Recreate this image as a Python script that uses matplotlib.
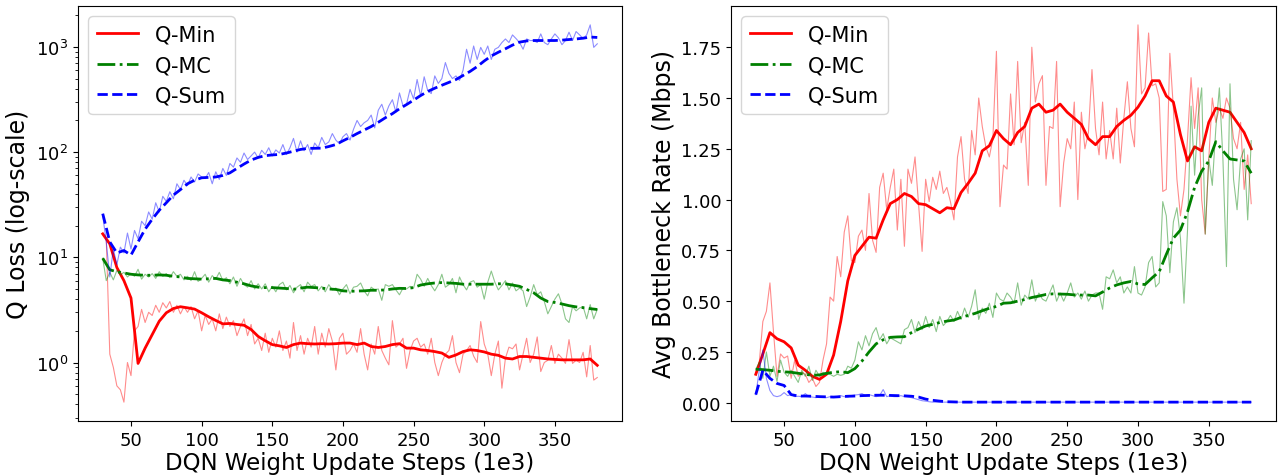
import numpy as np
import matplotlib
matplotlib.use("Agg")
import matplotlib.pyplot as plt
from matplotlib.ticker import MultipleLocator, FormatStrFormatter

# x grids (DQN weight update steps, 1e3)
steps_smooth = np.arange(30, 381, 5)       # 71 points
steps_raw = np.arange(30, 380.01, 2.5)     # 141 points

# ---------------- Left panel: Q loss (log-scale) ----------------
loss_min_smooth = [
    16.7, 13.4, 8.0, 6.0, 4.1, 0.98, 1.37, 1.84, 2.47, 2.97,
    3.26, 3.39, 3.31, 3.22, 2.97, 2.72, 2.51, 2.33, 2.35, 2.30,
    2.26, 2.06, 1.77, 1.61, 1.48, 1.44, 1.39, 1.48, 1.53, 1.51,
    1.50, 1.51, 1.50, 1.51, 1.53, 1.53, 1.48, 1.53, 1.42, 1.39,
    1.42, 1.48, 1.51, 1.37, 1.37, 1.32, 1.30, 1.27, 1.23, 1.12,
    1.18, 1.27, 1.32, 1.30, 1.26, 1.20, 1.17, 1.10, 1.08, 1.14,
    1.14, 1.12, 1.10, 1.08, 1.07, 1.06, 1.06, 1.06, 1.06, 1.08,
    0.94]
loss_mc_smooth = [
    9.8, 7.6, 7.3, 7.1, 6.9, 6.8, 6.75, 6.75, 6.8, 6.75,
    6.6, 6.5, 6.3, 6.25, 6.2, 6.25, 6.3, 6.1, 6.0, 5.8,
    5.6, 5.35, 5.2, 5.15, 5.15, 5.1, 5.05, 4.97, 5.1, 5.2,
    5.15, 5.1, 5.0, 4.95, 4.8, 4.75, 4.78, 4.8, 4.86, 4.86,
    4.9, 5.0, 5.07, 5.05, 5.15, 5.45, 5.6, 5.7, 5.75, 5.7,
    5.65, 5.55, 5.55, 5.55, 5.55, 5.55, 5.6, 5.6, 5.45, 5.3,
    4.95, 4.6, 4.1, 3.8, 3.72, 3.6, 3.47, 3.38, 3.32, 3.25,
    3.19]
loss_sum_smooth = [
    26, 14, 11.0, 11.6, 10.5, 14, 18.5, 23, 28, 33,
    39, 44, 50, 54, 57, 57.5, 58, 60, 63.5, 70,
    77, 84, 89, 92.5, 94, 95, 98, 102, 106, 108.5,
    108.7, 109, 113, 118, 128, 138, 150, 162, 175, 192,
    212, 232, 258, 283, 312, 345, 377, 405, 432, 460,
    490, 535, 585, 650, 735, 820, 890, 960, 1040, 1110,
    1140, 1150, 1150, 1150, 1150, 1160, 1175, 1190, 1210, 1240,
    1230]

loss_min_raw = [
    16.5, 15, 1.2, 0.9, 0.6, 0.55, 0.42, 1.0, 0.75, 2.0,
    2.2, 3.2, 2.4, 3.0, 2.8, 3.5, 3.0, 3.7, 3.3, 3.8,
    3.0, 3.5, 2.9, 3.4, 3.0, 3.4, 2.6, 3.1, 2.0, 2.8,
    2.3, 2.6, 2.0, 2.9, 2.1, 2.7, 2.2, 2.5, 1.8, 2.2,
    2.6, 1.8, 2.3, 1.5, 1.7, 1.3, 1.9, 1.25, 1.7, 1.4,
    2.0, 1.3, 1.6, 1.1, 2.4, 1.3, 1.8, 1.2, 1.7, 1.4,
    2.2, 1.2, 1.9, 1.4, 2.1, 1.6, 0.85, 1.7, 1.9, 1.2,
    1.3, 1.5, 1.25, 2.1, 1.2, 0.85, 1.5, 1.2, 2.2, 1.3,
    1.1, 0.95, 2.5, 1.4, 1.5, 1.7, 0.88, 1.3, 1.6, 1.7,
    1.4, 1.5, 1.2, 1.7, 1.0, 0.75, 1.0, 1.2, 1.3, 1.8,
    1.0, 0.8, 1.2, 1.3, 1.45, 1.15, 1.0, 2.45, 1.5, 1.2,
    0.75, 1.2, 1.6, 0.57, 1.1, 1.4, 1.35, 1.5, 0.85, 1.2,
    1.7, 1.0, 1.2, 1.75, 0.82, 1.0, 1.05, 1.45, 0.98, 1.2,
    1.1, 0.98, 1.65, 0.98, 1.05, 1.0, 1.25, 0.73, 1.45, 0.68,
    0.72]
loss_mc_raw = [
    9.8, 6.0, 7.2, 6.1, 7.5, 6.8, 7.2, 6.5, 7.0, 6.6,
    7.7, 6.2, 6.9, 6.5, 7.0, 6.3, 7.3, 6.6, 7.0, 6.4,
    7.3, 6.6, 6.9, 6.1, 6.6, 6.0, 7.3, 5.9, 6.3, 6.9,
    5.8, 6.7, 6.2, 7.2, 6.0, 6.4, 5.6, 6.5, 5.3, 6.3,
    5.5, 5.2, 6.0, 5.0, 5.6, 5.0, 5.6, 4.7, 5.3, 4.7,
    5.5, 5.8, 4.9, 5.4, 4.6, 5.2, 5.5, 4.7, 5.8, 5.3,
    5.5, 4.8, 5.3, 4.7, 5.5, 4.9, 5.1, 4.4, 5.0, 5.5,
    4.5, 5.2, 5.3, 5.7, 4.8, 4.3, 5.2, 4.9, 5.0, 3.9,
    5.5, 5.3, 5.5, 4.9, 4.4, 5.1, 5.0, 5.3, 5.1, 6.9,
    6.2, 5.3, 6.3, 5.4, 4.8, 5.5, 6.9, 5.2, 5.5, 6.3,
    4.6, 6.5, 5.5, 4.9, 5.8, 6.0, 5.2, 5.5, 4.0, 5.8,
    7.4, 5.8, 4.9, 5.4, 6.0, 4.9, 5.7, 4.8, 5.1, 4.8,
    3.4, 4.2, 5.5, 4.4, 4.7, 3.8, 2.9, 3.4, 4.0, 4.5,
    3.6, 2.6, 2.4, 3.4, 3.1, 3.3, 3.4, 2.6, 3.55, 2.6,
    3.2]
loss_sum_raw = [
    25, 14, 6.5, 12, 8.5, 12.5, 11, 17, 12, 18,
    15, 22, 20, 27, 23, 33, 27, 38, 34, 42,
    36, 50, 44, 54, 48, 58, 52, 62, 58, 56,
    64, 50, 65, 55, 70, 60, 78, 72, 88, 80,
    98, 85, 92, 100, 88, 104, 95, 110, 92, 105,
    98, 118, 95, 110, 135, 100, 128, 103, 118, 95,
    122, 110, 138, 118, 125, 150, 130, 120, 140, 150,
    130, 165, 200, 175, 190, 200, 225, 170, 250, 285,
    225, 275, 315, 240, 365, 275, 285, 395, 320, 490,
    340, 520, 385, 360, 530, 450, 500, 710, 560, 500,
    530, 480, 600, 950, 700, 1020, 760, 990, 850, 1020,
    760, 950, 990, 1100, 1190, 1100, 1300, 1200, 1100, 950,
    1190, 1150, 1150, 1100, 1330, 1100, 1050, 1190, 1330, 1220,
    1050, 1150, 1380, 1150, 1400, 1300, 1200, 1300, 1620, 990,
    1070]

# ---------------- Right panel: avg bottleneck rate (Mbps) ----------------
rate_min_smooth = [
    0.14, 0.24, 0.345, 0.315, 0.30, 0.27, 0.185, 0.16, 0.13, 0.115,
    0.14, 0.235, 0.40, 0.60, 0.725, 0.77, 0.815, 0.81, 0.90, 0.98,
    1.0, 1.03, 1.015, 0.98, 0.975, 0.955, 0.935, 0.96, 0.955, 1.035,
    1.08, 1.13, 1.24, 1.265, 1.34, 1.30, 1.27, 1.33, 1.36, 1.45,
    1.47, 1.43, 1.44, 1.47, 1.43, 1.40, 1.37, 1.30, 1.27, 1.31,
    1.31, 1.36, 1.39, 1.415, 1.455, 1.51, 1.585, 1.585, 1.51, 1.48,
    1.32, 1.19, 1.26, 1.24, 1.38, 1.45, 1.44, 1.43, 1.38, 1.33,
    1.25]
rate_mc_smooth = [
    0.165, 0.163, 0.16, 0.155, 0.152, 0.15, 0.145, 0.14, 0.135, 0.137,
    0.145, 0.15, 0.153, 0.148, 0.168, 0.205, 0.25, 0.29, 0.31, 0.322,
    0.324, 0.325, 0.345, 0.362, 0.378, 0.386, 0.395, 0.402, 0.407, 0.42,
    0.43, 0.44, 0.453, 0.465, 0.474, 0.49, 0.492, 0.50, 0.508, 0.518,
    0.525, 0.533, 0.536, 0.535, 0.534, 0.531, 0.53, 0.53, 0.526, 0.545,
    0.565, 0.58, 0.59, 0.597, 0.585, 0.582, 0.615, 0.645, 0.73, 0.81,
    0.85, 0.94, 1.06, 1.14, 1.19, 1.285, 1.24, 1.20, 1.195, 1.19,
    1.13]
rate_sum_smooth = [
    0.04, 0.16, 0.12, 0.095, 0.085, 0.04, 0.033, 0.033, 0.032, 0.030,
    0.029, 0.028, 0.030, 0.032, 0.033, 0.035, 0.036, 0.037, 0.037, 0.036,
    0.035, 0.034, 0.032, 0.028, 0.018, 0.012, 0.008, 0.005, 0.004, 0.003,
    0.003, 0.003, 0.003, 0.003, 0.003, 0.003, 0.003, 0.003, 0.003, 0.003,
    0.003, 0.003, 0.003, 0.003, 0.003, 0.003, 0.003, 0.003, 0.003, 0.003,
    0.003, 0.003, 0.003, 0.003, 0.003, 0.003, 0.003, 0.003, 0.003, 0.003,
    0.003, 0.003, 0.003, 0.003, 0.003, 0.003, 0.003, 0.003, 0.003, 0.003,
    0.003]

rate_min_raw = [
    0.14, 0.20, 0.40, 0.45, 0.59, 0.35, 0.13, 0.24, 0.22, 0.23,
    0.12, 0.21, 0.13, 0.15, 0.14, 0.10, 0.12, 0.08, 0.10, 0.21,
    0.29, 0.52, 0.50, 0.72, 0.62, 0.84, 0.92, 0.70, 0.69, 0.82,
    0.85, 0.75, 1.03, 0.80, 0.74, 1.06, 1.13, 0.95, 1.06, 1.15,
    0.85, 1.10, 0.77, 1.15, 1.08, 1.21, 0.98, 0.745, 1.10, 0.99,
    1.11, 1.05, 1.14, 1.03, 1.06, 0.99, 0.90, 1.21, 1.31, 1.10,
    1.03, 1.34, 1.22, 1.50, 1.36, 1.26, 1.21, 1.30, 1.73, 0.965,
    1.17, 1.15, 1.52, 1.27, 1.68, 1.28, 1.38, 1.07, 1.75, 1.48,
    1.57, 1.61, 1.07, 1.36, 1.35, 1.68, 0.965, 1.18, 1.30, 1.25,
    1.48, 1.0, 1.43, 1.25, 1.33, 1.64, 1.35, 1.22, 1.48, 1.2,
    1.34, 1.2, 1.45, 1.18, 1.40, 1.58, 1.35, 1.26, 1.86, 1.52,
    1.55, 1.82, 1.56, 1.57, 1.50, 1.04, 1.05, 1.72, 1.45, 1.10,
    0.92, 1.05, 1.30, 1.60, 1.35, 1.55, 1.00, 0.83, 1.20, 1.50,
    1.38, 1.45, 1.40, 1.50, 1.45, 1.30, 1.25, 1.38, 1.05, 1.22,
    0.98]
rate_mc_raw = [
    0.165, 0.20, 0.12, 0.25, 0.13, 0.18, 0.105, 0.21, 0.15, 0.13,
    0.16, 0.13, 0.10, 0.16, 0.13, 0.18, 0.11, 0.16, 0.13, 0.15,
    0.14, 0.14, 0.13, 0.14, 0.135, 0.14, 0.18, 0.17, 0.21, 0.30,
    0.26, 0.33, 0.28, 0.34, 0.37, 0.31, 0.34, 0.29, 0.32, 0.31,
    0.30, 0.29, 0.36, 0.37, 0.41, 0.345, 0.40, 0.36, 0.425, 0.37,
    0.41, 0.35, 0.425, 0.38, 0.40, 0.43, 0.40, 0.45, 0.41, 0.466,
    0.42, 0.475, 0.556, 0.41, 0.466, 0.44, 0.49, 0.42, 0.54, 0.51,
    0.50, 0.54, 0.52, 0.49, 0.59, 0.48, 0.53, 0.51, 0.605, 0.50,
    0.54, 0.51, 0.50, 0.54, 0.58, 0.50, 0.54, 0.50, 0.54, 0.59,
    0.52, 0.54, 0.51, 0.55, 0.50, 0.53, 0.54, 0.54, 0.46, 0.62,
    0.61, 0.654, 0.59, 0.62, 0.54, 0.57, 0.54, 0.67, 0.54, 0.53,
    0.57, 0.69, 0.72, 0.57, 0.59, 0.99, 0.92, 0.64, 0.89, 0.96,
    0.81, 0.49, 0.85, 1.46, 1.12, 1.41, 1.55, 0.83, 1.20, 1.07,
    1.35, 1.55, 1.2, 0.67, 1.57, 1.1, 0.95, 1.2, 1.25, 0.90,
    1.29]
rate_sum_raw = [
    0.04, 0.16, 0.26, 0.12, 0.06, 0.035, 0.03, 0.035, 0.05, 0.035,
    0.04, 0.03, 0.032, 0.03, 0.045, 0.03, 0.028, 0.025, 0.03, 0.028,
    0.025, 0.03, 0.028, 0.03, 0.035, 0.03, 0.028, 0.035, 0.038, 0.04,
    0.045, 0.035, 0.04, 0.035, 0.03, 0.035, 0.065, 0.03, 0.035, 0.03,
    0.03, 0.035, 0.03, 0.028, 0.025, 0.02, 0.015, 0.01, 0.008, 0.005,
    0.003, 0.003, 0.003, 0.003, 0.003, 0.003, 0.003, 0.003, 0.003, 0.003,
    0.003, 0.003, 0.003, 0.003, 0.003, 0.003, 0.003, 0.003, 0.003, 0.003,
    0.003, 0.003, 0.003, 0.003, 0.003, 0.003, 0.003, 0.003, 0.003, 0.003,
    0.003, 0.003, 0.003, 0.003, 0.003, 0.003, 0.003, 0.003, 0.003, 0.003,
    0.003, 0.003, 0.003, 0.003, 0.003, 0.003, 0.003, 0.003, 0.003, 0.003,
    0.003, 0.003, 0.003, 0.003, 0.003, 0.003, 0.003, 0.003, 0.003, 0.003,
    0.003, 0.003, 0.003, 0.003, 0.003, 0.003, 0.003, 0.003, 0.003, 0.003,
    0.003, 0.003, 0.003, 0.003, 0.003, 0.003, 0.003, 0.003, 0.003, 0.003,
    0.003, 0.003, 0.003, 0.003, 0.003, 0.003, 0.003, 0.003, 0.003, 0.003,
    0.003]

series_names = ["Q-Min", "Q-MC", "Q-Sum"]
colors = ["red", "green", "blue"]
styles = ["-", "-.", "--"]

fig = plt.figure(figsize=(12.78, 4.77), dpi=100)
ax1 = fig.add_axes([78 / 1278, 55 / 477, 544 / 1278, 415 / 477])
ax2 = fig.add_axes([731 / 1278, 55 / 477, 545 / 1278, 415 / 477])

left_raw = [loss_min_raw, loss_mc_raw, loss_sum_raw]
left_smooth = [loss_min_smooth, loss_mc_smooth, loss_sum_smooth]
right_raw = [rate_min_raw, rate_mc_raw, rate_sum_raw]
right_smooth = [rate_min_smooth, rate_mc_smooth, rate_sum_smooth]

for ax, raws, smooths in [(ax1, left_raw, left_smooth), (ax2, right_raw, right_smooth)]:
    for name, c, ls, raw, sm in zip(series_names, colors, styles, raws, smooths):
        ax.plot(steps_raw, raw, color=c, lw=0.8, alpha=0.45)
        ax.plot(steps_smooth, sm, color=c, lw=2.0, ls=ls, label=name)
    ax.set_xlabel("DQN Weight Update Steps (1e3)", fontsize=16.5, labelpad=1.5)
    ax.tick_params(labelsize=13)
    ax.legend(loc="upper left", fontsize=15)

ax1.set_yscale("log")
ax1.set_ylabel("Q Loss (log-scale)", fontsize=17)
ax2.set_ylabel("Avg Bottleneck Rate (Mbps)", fontsize=17)
ax2.yaxis.set_major_locator(MultipleLocator(0.25))
ax2.yaxis.set_major_formatter(FormatStrFormatter("%.2f"))

fig.savefig("out.png", dpi=100)
